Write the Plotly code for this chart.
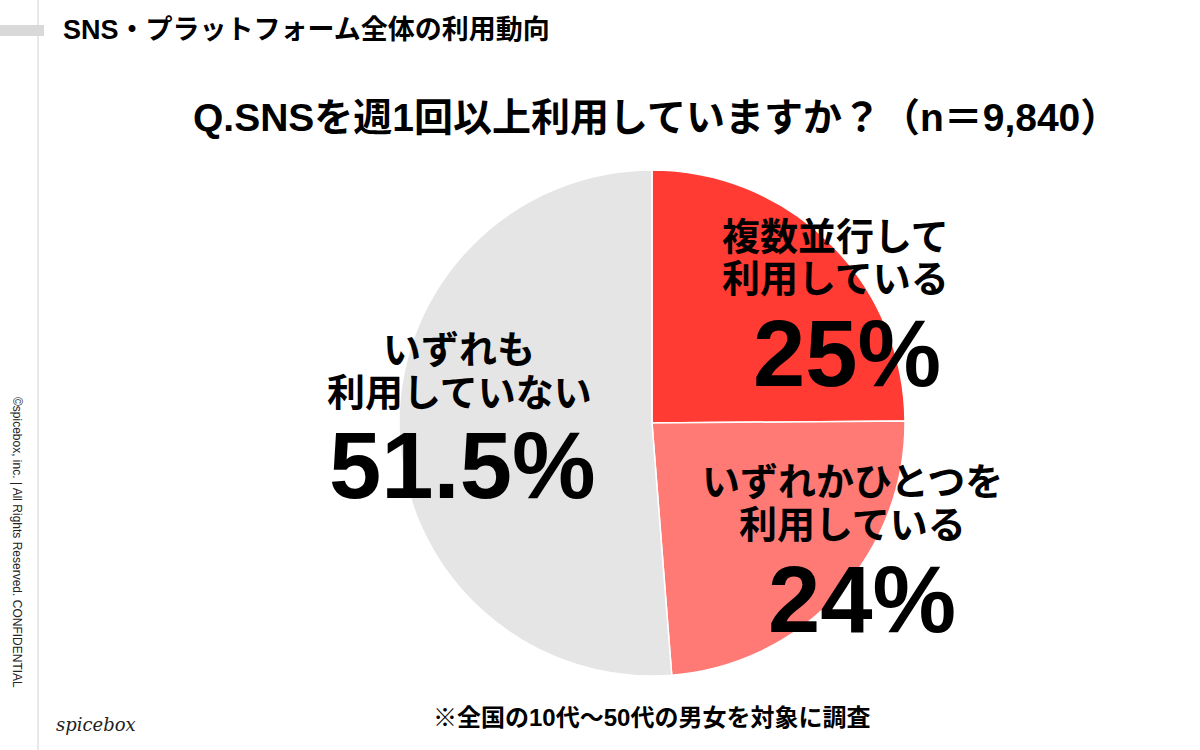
import plotly.graph_objects as go

# ---- data ----
labels = ["複数並行して利用している", "いずれかひとつを利用している", "いずれも利用していない"]
label_lines = [["複数並行して", "利用している"], ["いずれかひとつを", "利用している"], ["いずれも", "利用していない"]]
values = [25, 24, 51.5]
colors = ["#FF3B33", "#FF7A75", "#E5E5E5"]

header = "SNS・プラットフォーム全体の利用動向"
title = "Q.SNSを週1回以上利用していますか？（n＝9,840）"
footnote = "※全国の10代〜50代の男女を対象に調査"
copyright_text = "©spicebox, inc. | All Rights Reserved. CONFIDENTIAL"
logo = "spicebox"

W, H = 1200, 750
JP = "Liberation Sans, Noto Sans CJK JP, sans-serif"
NUM = "Liberation Sans, Arial, sans-serif"

fig = go.Figure()
fig.add_trace(go.Pie(
    labels=labels, values=values, sort=False, direction="clockwise", rotation=0,
    marker=dict(colors=colors, line=dict(color="white", width=1.5)),
    textinfo="none", hoverinfo="label+percent", showlegend=False,
    domain=dict(x=[399 / W, 905 / W], y=[1 - 676 / H, 1 - 170 / H]),
))

def px(x):
    return x / W

def py(y):
    return 1 - y / H

ann = []
def add(text, x, y, size, family=JP, xanchor="center", color="black", **kw):
    ann.append(dict(text=text, x=px(x), y=py(y), xref="paper", yref="paper",
                    xanchor=xanchor, yanchor="middle", showarrow=False,
                    font=dict(family=family, size=size, color=color, weight="bold"), **kw))

add(header, 61, 30, 27, xanchor="left")
add(title, 656, 117, 39)
add(footnote, 651, 717, 24)

# slice labels: (label x, line centers, pct x, pct y)
pos = [
    (835, [237, 279], 847, 353),
    (852, [482, 525], 862, 599),
    (459, [350, 393], 462, 466),
]
for (lines, v, (cx, ly, pcx, pcy)) in zip(label_lines, values, pos):
    for t, yy in zip(lines, ly):
        add(t, cx, yy, 38)
    add(f"{v:g}%", pcx, pcy, 94, family=NUM)

# vertical copyright
ann.append(dict(text=copyright_text, x=px(17), y=py(542), xref="paper", yref="paper",
                xanchor="center", yanchor="middle", showarrow=False, textangle=90,
                font=dict(family="Liberation Sans, Arial", size=12, color="#222")))
# logo
ann.append(dict(text=logo, x=px(54), y=py(724), xref="paper", yref="paper",
                xanchor="left", yanchor="middle", showarrow=False,
                font=dict(family="DejaVu Serif, serif", size=18, color="#222", style="italic")))

shapes = [
    dict(type="line", xref="paper", yref="paper", x0=px(38), x1=px(38), y0=0, y1=1,
         line=dict(color="#E0E0E0", width=1.5)),
    dict(type="rect", xref="paper", yref="paper", x0=0, x1=px(44), y0=py(36), y1=py(25),
         fillcolor="#D9D9D9", line=dict(width=0)),
]

fig.update_layout(width=W, height=H, margin=dict(l=0, r=0, t=0, b=0),
                  paper_bgcolor="white", plot_bgcolor="white",
                  annotations=ann, shapes=shapes)
fig.write_html("out.html", config={"displayModeBar": False},
               post_script="document.body.style.margin='0';")
